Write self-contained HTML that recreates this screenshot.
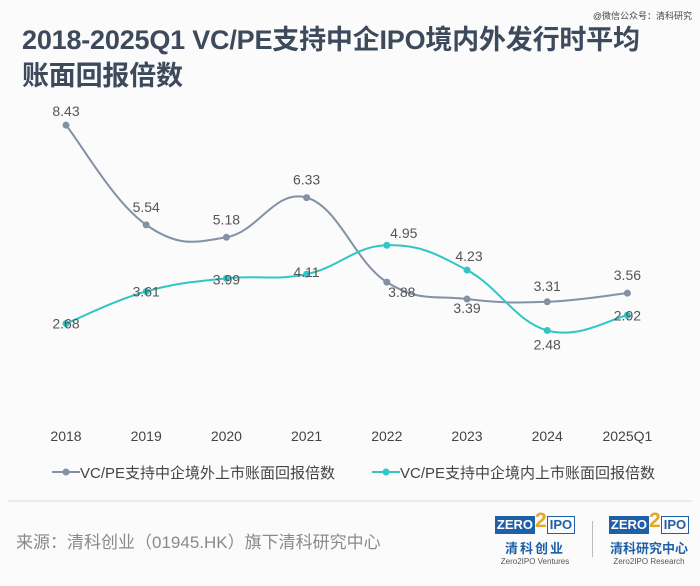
<!DOCTYPE html>
<html><head><meta charset="utf-8">
<style>
html,body{margin:0;padding:0;background:#fbfbfb;}
body{width:700px;height:586px;overflow:hidden;position:relative;font-family:"Liberation Sans","Noto Sans CJK SC",sans-serif;}
.title{position:absolute;left:22px;top:22px;font-size:27px;font-weight:bold;color:#3d4a5c;line-height:36px;letter-spacing:-0.2px;}
.wm{position:absolute;right:8px;top:9px;font-size:9px;color:#444;}
svg{position:absolute;left:0;top:0;}
.src{position:absolute;left:16px;top:528px;font-size:17px;color:#8a8a8a;}
.logo{position:absolute;top:516px;width:86px;text-align:center;font-family:"Liberation Sans","Noto Sans CJK SC",sans-serif;}
.lb{display:flex;height:18px;font-weight:bold;font-size:13px;line-height:18px;justify-content:center;}
.z{background:#1f5fa8;color:#fff;padding:0 2px;}
.two{color:#e1a82a;font-size:21px;line-height:16px;margin:-3px 0 0 0;}
.i{border:1.5px solid #1f5fa8;color:#1f5fa8;padding:0 2px;line-height:15px;}
.cn{color:#1f5fa8;font-weight:bold;font-size:13px;margin-top:4px;letter-spacing:2px;}
.en{color:#555;font-size:8px;margin-top:0px;}
</style></head><body>
<div class="title">2018-2025Q1 VC/PE支持中企IPO境内外发行时平均<br>账面回报倍数</div>
<div class="wm">@微信公众号：清科研究</div>
<svg id="chart" width="700" height="586"></svg>
<div class="src">来源：清科创业（01945.HK）旗下清科研究中心</div>
<div class="logo" style="left:492px">
 <div class="lb"><span class="z">ZERO</span><span class="two">2</span><span class="i">IPO</span></div>
 <div class="cn">清科创业</div><div class="en">Zero2IPO Ventures</div></div>
<div style="position:absolute;left:592px;top:521px;width:1px;height:36px;background:#bbb"></div>
<div class="logo" style="left:606px">
 <div class="lb"><span class="z">ZERO</span><span class="two">2</span><span class="i">IPO</span></div>
 <div class="cn" style="letter-spacing:0">清科研究中心</div><div class="en">Zero2IPO Research</div></div>
<script>
const categories=["2018","2019","2020","2021","2022","2023","2024","2025Q1"];
const overseasValues=[8.43,5.54,5.18,6.33,3.88,3.39,3.31,3.56];
const domesticValues=[2.68,3.61,3.99,4.11,4.95,4.23,2.48,2.92];
const seriesNames=["VC/PE支持中企境外上市账面回报倍数","VC/PE支持中企境内上市账面回报倍数"];
const NS="http://www.w3.org/2000/svg";
const svg=document.getElementById('chart');
const xScale=i=>66+i*80.2;
const yScale=v=>416-v*34.5;
function mk(tag,attrs){const e=document.createElementNS(NS,tag);for(const k in attrs)e.setAttribute(k,attrs[k]);svg.appendChild(e);return e;}
function smooth(pts){let d=`M${pts[0][0]},${pts[0][1]}`;for(let i=0;i<pts.length-1;i++){const p0=pts[i-1]||pts[i],p1=pts[i],p2=pts[i+1],p3=pts[i+2]||p2;const t=0.2;
d+=` C${p1[0]+(p2[0]-p0[0])*t},${p1[1]+(p2[1]-p0[1])*t} ${p2[0]-(p3[0]-p1[0])*t},${p2[1]-(p3[1]-p1[1])*t} ${p2[0]},${p2[1]}`;}return d;}
const offG=[[0,-14],[0,-18],[0,-18],[0,-18],[15,10],[0,9],[0,-16],[0,-18]];
const offT=[[0,0],[0,0],[0,1],[0,-2],[17,-12],[2,-14],[0,14],[0,0]];
function drawSeries(vals,color,off,name){
 const pts=vals.map((v,i)=>[xScale(i),yScale(v)]);
 const p=mk('path',{d:smooth(pts),fill:'none',stroke:color,'stroke-width':2});
 
 
 pts.forEach((q,i)=>{
  const c=mk('circle',{cx:q[0],cy:q[1],r:3.5,fill:color});
  
  
  const t=mk('text',{x:q[0]+off[i][0],y:q[1]+off[i][1]+5,'text-anchor':'middle','font-size':14,fill:'#555'});
  t.textContent=vals[i].toFixed(2);
  
  
 });
}
drawSeries(overseasValues,'#8391a5',offG,'overseas');
drawSeries(domesticValues,'#2fc6c6',offT,'domestic');
categories.forEach((c,i)=>{
 const t=mk('text',{x:xScale(i),y:441,'text-anchor':'middle','font-size':14,fill:'#444'});
 t.textContent=c;
 
 
});
[[52,'#8391a5',0],[372,'#2fc6c6',1]].forEach(([x,col,k])=>{
 const l=mk('line',{x1:x,y1:472,x2:x+28,y2:472,stroke:col,'stroke-width':2});
 
 
 const c=mk('circle',{cx:x+14,cy:472,r:3.5,fill:col});
 
 
 const t=mk('text',{x:x+28,y:478,'font-size':15,fill:'#444'});
 t.textContent=seriesNames[k];
 
 
});
const d=mk('line',{x1:8,y1:501,x2:692,y2:501,stroke:'#e6e6e6','stroke-width':1.5});


</script>
</body></html>
